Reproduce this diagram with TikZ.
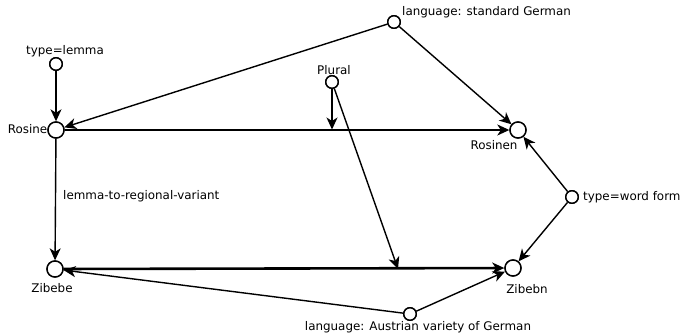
\documentclass[tikz,border=0pt]{standalone}
\usepackage{fontspec}
\setmainfont{DejaVu Sans}
\usetikzlibrary{arrows.meta}
\begin{document}
\begin{tikzpicture}[x=1pt,y=-1pt,
  every node/.style={font=\fontsize{11.9}{14}\selectfont, inner sep=0pt},
  big/.style={circle, draw, fill=white, line width=1.4pt, minimum size=16pt},
  small/.style={circle, draw, fill=white, line width=1.4pt, minimum size=12.5pt},
  lab/.style={inner sep=0pt},
  edge/.style={line width=1.4pt, -{Stealth[length=12pt,width=11pt,inset=3.5pt]}},
  thickedge/.style={line width=2.6pt, -{Stealth[length=12pt,width=11pt,inset=3.5pt]}}]
\useasboundingbox (0,0) rectangle (684,335);
% nodes
\node[small] (tl) at (56,64) {};
\node[big] (rosine) at (56,130) {};
\node[small] (sg) at (394,22) {};
\node[small] (plural) at (332,82) {};
\node[big] (rosinen) at (518,130) {};
\node[small] (wf) at (572,197) {};
\node[big] (zibebe) at (55,269) {};
\node[big] (zibebn) at (513,268) {};
\node[small] (at) at (410,314) {};
% labels
\node[lab] (tlL) at (65,51) {type=lemma};
\node[lab, anchor=east] (rosineL) at (47.5,129) {Rosine};
\node[lab, anchor=west] (sgL) at (402,12) {language: standard German};
\node[lab] (pluralL) at (334,70) {Plural};
\node[lab] (rosinenL) at (494,145) {Rosinen};
\node[lab, anchor=west] (wfL) at (583,197) {type=word form};
\node[lab] (zibebeL) at (52,288) {Zibebe};
\node[lab] (zibebnL) at (527,289) {Zibebn};
\node[lab] (atL) at (418,327) {language: Austrian variety of German};
\node[lab, anchor=west] (relL) at (63,196) {lemma-to-regional-variant};
% anchor points on edges
\coordinate (p1) at (332,129.5);
\coordinate (p2) at (398,269);
% edges
\draw[edge] (tl) -- (rosine);
\draw[edge] (sg) -- (rosine);
\draw[edge] (sg) -- (rosinen);
\draw[edge] (rosine) -- (rosinen);
\draw[edge] (plural) -- (p1);
\draw[edge] (plural) -- (p2);
\draw[edge] (rosine) -- (zibebe);
\draw[thickedge] (zibebe) -- (zibebn);
\draw[edge] (wf) -- (rosinen);
\draw[edge] (wf) -- (zibebn);
\draw[edge] (at) -- (zibebe);
\draw[edge] (at) -- (zibebn);
% redraw circles on top
\foreach \n/\s in {tl/small,rosine/big,sg/small,plural/small,rosinen/big,wf/small,zibebe/big,zibebn/big,at/small}
  \node[\s] at (\n) {};
\end{tikzpicture}
\end{document}
